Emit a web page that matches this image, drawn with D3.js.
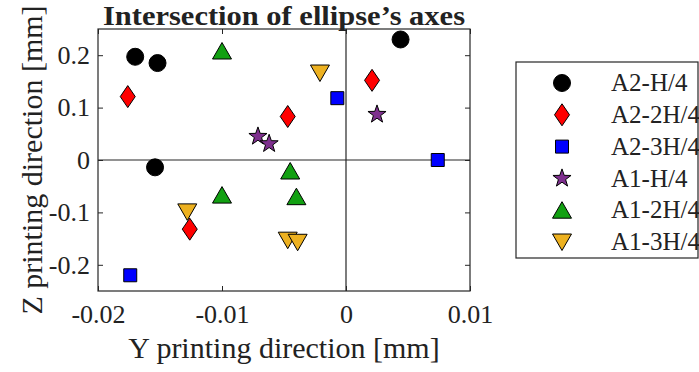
<!DOCTYPE html>
<html>
<head>
<meta charset="utf-8">
<script src="https://cdn.jsdelivr.net/npm/d3@7/dist/d3.min.js"></script>
<style>
  html, body { margin: 0; padding: 0; background: #fff; }
  svg { display: block; }
  text { font-family: "Liberation Serif", "Times New Roman", serif; fill: #222; }
</style>
</head>
<body>
<svg id="chart" width="699" height="372"></svg>
<script>
// ---- data ----
const seriesNames = ["A2-H/4", "A2-2H/4", "A2-3H/4", "A1-H/4", "A1-2H/4", "A1-3H/4"];
const seriesColors = ["#000000", "#ff0000", "#0000ff", "#7e2f8e", "#12a012", "#edb120"];
const seriesShapes = ["circle", "diamond", "square", "star", "triUp", "triDown"];

const a2H4 = [[-0.0170, 0.197], [-0.0152, 0.185], [-0.0154, -0.014], [0.0044, 0.230]];
const a2_2H4 = [[-0.0176, 0.121], [-0.0047, 0.083], [0.0021, 0.152], [-0.0126, -0.132]];
const a2_3H4 = [[-0.0007, 0.118], [0.0074, 0.0], [-0.0174, -0.220]];
const a1H4 = [[-0.0071, 0.045], [-0.0062, 0.031], [0.0025, 0.087]];
const a1_2H4 = [[-0.0100, 0.208], [-0.0100, -0.067], [-0.0045, -0.021], [-0.0040, -0.070]];
const a1_3H4 = [[-0.0021, 0.166], [-0.0128, -0.099], [-0.0047, -0.153], [-0.0039, -0.157]];
const seriesData = [a2H4, a2_2H4, a2_3H4, a1H4, a1_2H4, a1_3H4];

const xTicks = [-0.02, -0.01, 0, 0.01];
const xTickLabels = ["-0.02", "-0.01", "0", "0.01"];
const yTicks = [-0.2, -0.1, 0, 0.1, 0.2];
const yTickLabels = ["-0.2", "-0.1", "0", "0.1", "0.2"];

const titleText = "Intersection of ellipse\u2019s axes";
const xLabel = "Y printing direction [mm]";
const yLabel = "Z printing direction [mm]";

// ---- layout ----
const L = 98, R = 470, T = 29, B = 291;
const svg = d3.select("#chart");
const x = d3.scaleLinear().domain([-0.02, 0.01]).range([L, R]);
const y = d3.scaleLinear().domain([-0.25, 0.25]).range([B, T]);
const axisColor = "#262626";

// shapes
function shapePath(kind) {
  switch (kind) {
    case "circle": return d3.symbol().type(d3.symbolCircle).size(Math.PI * 8.5 * 8.5)();
    case "diamond": return "M0,-11L7.5,0L0,11L-7.5,0Z";
    case "square": return "M-6.5,-6.5L6.5,-6.5L6.5,6.5L-6.5,6.5Z";
    case "triUp": return "M0,-8.5L9.5,8L-9.5,8Z";
    case "triDown": return "M0,8.5L9.5,-8L-9.5,-8Z";
    case "star": {
      const ro = 9.5, ri = 3.8; let p = "";
      for (let i = 0; i < 10; i++) {
        const r = i % 2 === 0 ? ro : ri;
        const a = -Math.PI / 2 + i * Math.PI / 5;
        p += (i === 0 ? "M" : "L") + (r * Math.cos(a)).toFixed(2) + "," + (r * Math.sin(a)).toFixed(2);
      }
      return p + "Z";
    }
  }
}

// plot background box
svg.append("rect").attr("x", L).attr("y", T).attr("width", R - L).attr("height", B - T)
  .attr("fill", "#fff");

// zero lines
svg.append("line").attr("x1", L).attr("x2", R).attr("y1", y(0)).attr("y2", y(0))
  .attr("stroke", axisColor).attr("stroke-width", 1.2);
svg.append("line").attr("x1", x(0)).attr("x2", x(0)).attr("y1", T).attr("y2", B)
  .attr("stroke", axisColor).attr("stroke-width", 1.2);

// axes
const fmtX = d => xTickLabels[xTicks.indexOf(d)];
const fmtY = d => yTickLabels[yTicks.indexOf(d)];

function styleAxis(g, showText) {
  g.select(".domain").remove();
  g.selectAll(".tick line").attr("stroke", axisColor).attr("stroke-width", 1);
  g.selectAll(".tick text").attr("font-family", "Liberation Serif, Times New Roman, serif")
    .attr("font-size", 26).attr("fill", "#222");
  if (!showText) g.selectAll(".tick text").remove();
}

svg.append("g").attr("transform", `translate(0,${B})`)
  .call(d3.axisBottom(x).tickValues(xTicks).tickFormat(fmtX).tickSize(-5).tickPadding(14))
  .call(g => styleAxis(g, true));
svg.append("g").attr("transform", `translate(0,${T})`)
  .call(d3.axisTop(x).tickValues(xTicks).tickFormat(fmtX).tickSize(-5))
  .call(g => styleAxis(g, false));
svg.append("g").attr("transform", `translate(${L},0)`)
  .call(d3.axisLeft(y).tickValues(yTicks).tickFormat(fmtY).tickSize(-5).tickPadding(8))
  .call(g => styleAxis(g, true));
svg.append("g").attr("transform", `translate(${R},0)`)
  .call(d3.axisRight(y).tickValues(yTicks).tickFormat(fmtY).tickSize(-5))
  .call(g => styleAxis(g, false));

// box
svg.append("rect").attr("x", L).attr("y", T).attr("width", R - L).attr("height", B - T)
  .attr("fill", "none").attr("stroke", axisColor).attr("stroke-width", 1.2);

// markers
seriesData.forEach((data, i) => {
  svg.append("g").selectAll("path").data(data).join("path")
    .attr("d", shapePath(seriesShapes[i]))
    .attr("transform", d => `translate(${x(d[0])},${y(d[1])})`)
    .attr("fill", seriesColors[i])
    .attr("stroke", "#000").attr("stroke-width", 1);
});

// title and labels
svg.append("text").attr("x", (L + R) / 2).attr("y", 25).attr("text-anchor", "middle")
  .attr("font-size", 28).attr("font-weight", "bold").attr("fill", "#000")
  .attr("textLength", 362).attr("lengthAdjust", "spacingAndGlyphs").text(titleText);
svg.append("text").attr("x", (L + R) / 2).attr("y", 358).attr("text-anchor", "middle")
  .attr("font-size", 30).text(xLabel);
svg.append("text").attr("transform", `translate(42,${(T + B) / 2}) rotate(-90)`)
  .attr("text-anchor", "middle").attr("font-size", 30).text(yLabel);

// legend
const lg = svg.append("g");
lg.append("rect").attr("x", 516).attr("y", 62).attr("width", 182).attr("height", 196)
  .attr("fill", "#fff").attr("stroke", axisColor).attr("stroke-width", 1.2);
const ly = d3.scalePoint().domain(seriesNames).range([83, 242]);
seriesNames.forEach((name, i) => {
  lg.append("path").attr("d", shapePath(seriesShapes[i]))
    .attr("transform", `translate(562,${ly(name)})`)
    .attr("fill", seriesColors[i]).attr("stroke", "#000").attr("stroke-width", 1);
  lg.append("text").attr("x", 611).attr("y", ly(name)).attr("dy", "0.33em")
    .attr("font-size", 25).text(name);
});
</script>
</body>
</html>
